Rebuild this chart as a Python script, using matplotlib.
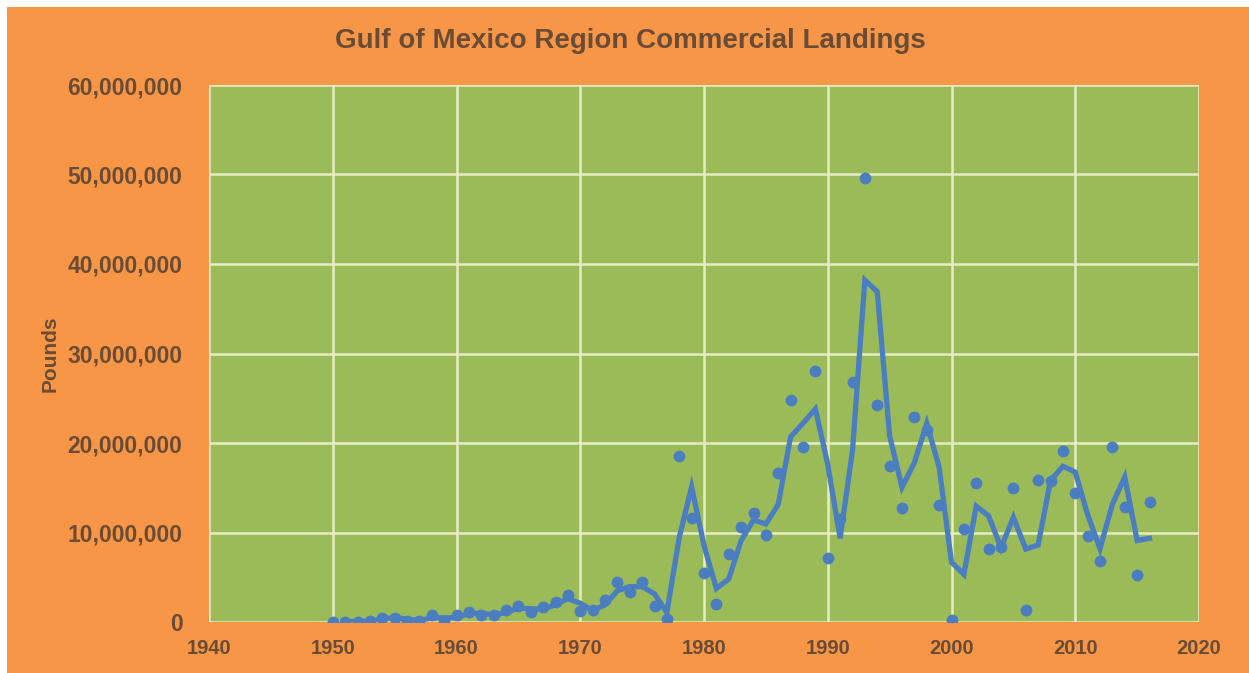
import numpy as np
import pandas as pd
import matplotlib
matplotlib.use("Agg")
import matplotlib.pyplot as plt
from matplotlib.patches import Rectangle
from matplotlib.ticker import FuncFormatter, MultipleLocator

years = list(range(1950, 2017))
# landings in millions of pounds
landings_m = [
    0.05, 0.05, 0.05, 0.15, 0.5, 0.5, 0.15, 0.15, 0.8, 0.15,
    0.8, 1.15, 0.8, 0.8, 1.3, 1.8, 1.15, 1.7, 2.2, 3.0,
    1.2, 1.35, 2.5, 4.5, 3.4, 4.5, 1.8, 0.3, 18.6, 11.6,
    5.5, 2.0, 7.6, 10.6, 12.2, 9.7, 16.6, 24.8, 19.6, 28.0,
    7.2, 11.5, 26.8, 49.6, 24.2, 17.4, 12.7, 22.9, 21.5, 13.1,
    0.25, 10.4, 15.5, 8.2, 8.4, 15.0, 1.3, 15.9, 15.7, 19.1,
    14.4, 9.6, 6.8, 19.5, 12.9, 5.3, 13.4,
]
x_ticks = [1940, 1950, 1960, 1970, 1980, 1990, 2000, 2010, 2020]

df = pd.DataFrame({"year": years, "pounds": np.array(landings_m) * 1e6})
# Excel style 2 period moving average trendline
df["ma2"] = df["pounds"].rolling(2).mean()

ORANGE = "#F79646"
GREEN = "#9BBB59"
BLUE = "#4A7EC0"
TXT = "#6A4C36"
GRID = "#E6EDC4"

plt.rcParams["font.family"] = ["Liberation Sans", "DejaVu Sans"]

fig = plt.figure(figsize=(12.49, 6.73), dpi=100)
fig.patch.set_facecolor("white")
fig.patches.append(Rectangle((7 / 1249, 0), 1, 1 - 7 / 673, transform=fig.transFigure,
                             facecolor=ORANGE, edgecolor="none", zorder=-10))

ax = fig.add_axes([209 / 1249, 51 / 673, 990 / 1249, 537 / 673])
ax.set_facecolor(GREEN)

ax.plot(df["year"], df["ma2"], color=BLUE, lw=3.8, solid_joinstyle="miter", zorder=3)
ax.plot(df["year"], df["pounds"], "o", color=BLUE, ms=8.5, mec="none", zorder=4)

ax.set_xlim(1940, 2020)
ax.set_ylim(0, 60e6)
ax.set_xticks(x_ticks)
ax.yaxis.set_major_locator(MultipleLocator(10e6))
ax.yaxis.set_major_formatter(FuncFormatter(lambda v, p: f"{v:,.0f}"))
ax.grid(True, color=GRID, lw=1.8)
ax.set_axisbelow(True)
for s in ax.spines.values():
    s.set_visible(False)
ax.tick_params(length=0, colors=TXT)
ax.tick_params(axis="y", pad=19, labelsize=16.5)
ax.tick_params(axis="x", pad=12, labelsize=14.5)
for lab in ax.get_yticklabels():
    lab.set_fontweight("bold")
for lab in ax.get_xticklabels():
    lab.set_fontweight("bold")

fig.text(0.505, 1 - 41 / 673, "Gulf of Mexico Region Commercial Landings",
         ha="center", va="center", fontsize=20, fontweight="bold", color=TXT)
fig.text(50 / 1249, 1 - 354 / 673, "Pounds", rotation=90, ha="center", va="center",
         fontsize=15, fontweight="bold", color=TXT)

fig.savefig("out.png", dpi=100, facecolor=fig.get_facecolor())
